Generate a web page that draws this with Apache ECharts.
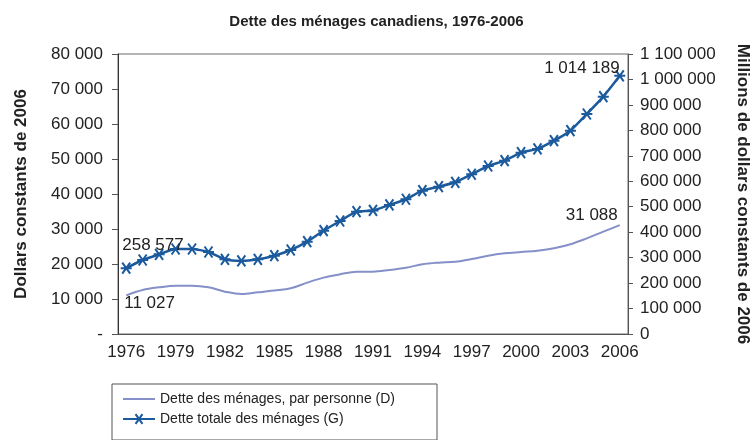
<!DOCTYPE html>
<html><head><meta charset="utf-8">
<script src="https://cdn.jsdelivr.net/npm/echarts@6/dist/echarts.min.js"></script>
<style>html,body{margin:0;padding:0;background:#fff}#c{width:753px;height:440px}</style>
</head><body><div id="c"></div>
<script>
const years = ['1976','1977','1978','1979','1980','1981','1982','1983','1984','1985','1986','1987','1988','1989','1990','1991','1992','1993','1994','1995','1996','1997','1998','1999','2000','2001','2002','2003','2004','2005','2006'];
// Dette des ménages, par personne (dollars constants de 2006) — axe de gauche
const perPerson = [11027,12570,13340,13800,13800,13340,12100,11430,11900,12400,13050,14670,16100,17050,17800,17800,18290,18950,19900,20380,20670,21430,22380,23050,23430,23800,24480,25630,27340,29240,31088];
// Dette totale des ménages (millions de dollars constants de 2006) — axe de droite
const totalDebt = [258577,290800,313000,334000,334000,322000,293500,287000,293500,307700,330000,362700,406000,444000,480600,485500,507000,529300,563000,578800,596000,627500,660000,681000,712400,727000,759500,798800,864400,932400,1014189];
const seriesNames = ['Dette des ménages, par personne (D)','Dette totale des ménages (G)'];
const titleText = 'Dette des ménages canadiens, 1976-2006';
const leftName = 'Dollars constants de 2006';
const rightName = 'Millions de dollars constants de 2006';

const fmt = v => String(Math.round(v)).replace(/\B(?=(\d{3})+(?!\d))/g, ' ');
const FONT = '"Liberation Sans", Arial, sans-serif';
const last = years.length - 1;
const c1 = '#8590c8', c2 = '#1b5a9c';
const star = 'path://M-5,0L5,0M-3.6,-4.2L3.6,4.2M-3.6,4.2L3.6,-4.2';

const chart = echarts.init(document.getElementById('c'), null, {renderer:'canvas'});
chart.setOption({
  animation:false,
  textStyle:{fontFamily:FONT},
  title:{text:titleText, left:'center', top:9, textStyle:{fontFamily:FONT, fontSize:15, fontWeight:'bold', color:'#222'}},
  grid:{left:118, right:125, top:54, bottom:106, show:true, borderColor:'#6a6a6a', borderWidth:1, outerBoundsMode:'none', containLabel:false},
  legend:{orient:'vertical', left:112, top:384, borderColor:'#555', borderWidth:1,
    padding:[8,42,14,10], itemGap:6, itemWidth:32, itemHeight:12,
    data:[{name:seriesNames[0], itemStyle:{opacity:0}}, {name:seriesNames[1]}],
    textStyle:{fontFamily:FONT, fontSize:14, color:'#222'}},
  xAxis:{type:'category', data:years, boundaryGap:true,
    axisLine:{lineStyle:{color:'#555'}},
    axisTick:{interval:0, length:5, lineStyle:{color:'#555'}},
    axisLabel:{interval:2, margin:10, fontSize:17, color:'#222', fontFamily:FONT}},
  yAxis:[
    {type:'value', position:'left', min:0, max:80000, interval:10000,
     name:leftName, nameLocation:'middle', nameRotate:90, nameGap:88,
     nameTextStyle:{fontFamily:FONT, fontSize:17, fontWeight:'bold', color:'#222'},
     axisLine:{show:true, lineStyle:{color:'#333'}},
     axisTick:{show:true, length:6, lineStyle:{color:'#555'}},
     splitLine:{show:false},
     axisLabel:{fontSize:17, color:'#222', margin:15, fontFamily:FONT, formatter:v => v===0 ? '-' : fmt(v)}},
    {type:'value', position:'right', min:0, max:1100000, interval:100000,
     name:rightName, nameLocation:'middle', nameRotate:-90, nameGap:106,
     nameTextStyle:{fontFamily:FONT, fontSize:17, fontWeight:'bold', color:'#222'},
     axisLine:{show:true, lineStyle:{color:'#555'}},
     axisTick:{show:true, length:5, lineStyle:{color:'#555'}},
     splitLine:{show:false},
     axisLabel:{fontSize:17, color:'#222', margin:12, fontFamily:FONT, formatter:v => fmt(v)}}
  ],
  series:[
    {name:seriesNames[0], type:'line', yAxisIndex:0, data:perPerson, smooth:0.35,
     symbol:'none', lineStyle:{color:c1, width:2}, itemStyle:{color:c1},
     markPoint:{symbol:'circle', symbolSize:0, silent:true,
       data:[
         {coord:[years[0], perPerson[0]], value:perPerson[0], label:{position:'bottom', align:'left', offset:[-2,-6]}},
         {coord:[years[last], perPerson[last]], value:perPerson[last], label:{position:'top', align:'right', offset:[-2,4]}}
       ],
       label:{show:true, fontSize:17, color:'#222', fontFamily:FONT, formatter:p => fmt(p.value)}}},
    {name:seriesNames[1], type:'line', yAxisIndex:1, data:totalDebt, smooth:0.2,
     symbol:star, symbolSize:11, showAllSymbol:true,
     lineStyle:{color:c2, width:2.5}, itemStyle:{color:c2, borderColor:c2, borderWidth:2},
     markPoint:{symbol:'circle', symbolSize:0, silent:true,
       data:[
         {coord:[years[0], totalDebt[0]], value:totalDebt[0], label:{position:'top', align:'left', offset:[-4,-9]}},
         {coord:[years[last], totalDebt[last]], value:totalDebt[last], label:{position:'top', align:'right', offset:[0,6]}}
       ],
       label:{show:true, fontSize:17, color:'#222', fontFamily:FONT, formatter:p => fmt(p.value)}}}
  ]
});
</script></body></html>
